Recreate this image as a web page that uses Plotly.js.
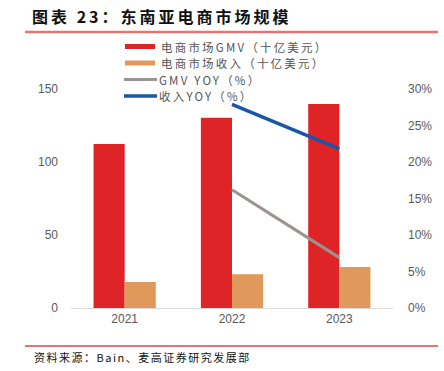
<!DOCTYPE html>
<html>
<head>
<meta charset="utf-8">
<script src="https://cdn.plot.ly/plotly-3.0.1.min.js"></script>
<style>
html,body{margin:0;padding:0;background:#fff;}
#chart{width:444px;height:371px;}
#chart .gtitle{letter-spacing:3px;}
#chart .annotation-text{letter-spacing:2.2px;}
#chart .annotation.src .annotation-text{letter-spacing:1.5px;}
</style>
</head>
<body>
<div id="chart"></div>
<script>
const years = ['2021', '2022', '2023'];
const gmv = [112.3, 130.3, 139.7];
const revenue = [17.8, 23.1, 28.1];
const gmvYoyYears = ['2022', '2023'];
const gmvYoy = [0.162, 0.069];
const revYoyYears = ['2022', '2023'];
const revYoy = [0.279, 0.218];
const leftTicks = [0, 50, 100, 150];
const rightTicks = [0, 0.05, 0.10, 0.15, 0.20, 0.25, 0.30];
const rightTickText = ['0%', '5%', '10%', '15%', '20%', '25%', '30%'];
const seriesNames = ['电商市场GMV（十亿美元）', '电商市场收入（十亿美元）', 'GMV YOY（%）', '收入YOY（%）'];
const seriesColors = ['#df2428', '#e0995a', '#9b9392', '#1a56a8'];

const cjk = '"Noto Sans CJK SC", "Noto Sans", sans-serif';
const num = '"Liberation Sans", Arial, sans-serif';

const data = [
  {type: 'bar', x: years, y: gmv, name: seriesNames[0], marker: {color: seriesColors[0]}, yaxis: 'y'},
  {type: 'bar', x: years, y: revenue, name: seriesNames[1], marker: {color: seriesColors[1]}, yaxis: 'y'},
  {type: 'scatter', mode: 'lines', x: gmvYoyYears, y: gmvYoy, name: seriesNames[2], line: {color: seriesColors[2], width: 3}, yaxis: 'y2'},
  {type: 'scatter', mode: 'lines', x: revYoyYears, y: revYoy, name: seriesNames[3], line: {color: seriesColors[3], width: 3.5}, yaxis: 'y2'}
];

// pixel -> paper helpers (plot area: x 71..393, y 89..308)
const px = v => (v - 71) / 322;
const py = v => (308 - v) / 219;

const shapes = [
  {type: 'line', xref: 'paper', yref: 'paper', x0: px(25), x1: px(438), y0: py(32), y1: py(32), line: {color: '#e87373', width: 2.5}},
  {type: 'line', xref: 'paper', yref: 'paper', x0: px(25), x1: px(438), y0: py(346), y1: py(346), line: {color: '#e87373', width: 2}}
];
const annotations = [
  {text: '资料来源：Bain、麦高证券研究发展部', xref: 'paper', yref: 'paper', x: px(32), y: py(357), align: 'left',
   xanchor: 'left', yanchor: 'middle', showarrow: false, font: {family: cjk, size: 11, color: '#111'}}
];
// custom legend
const legendY = [46.5, 63, 79.5, 96];
seriesNames.forEach((nm, i) => {
  const y = legendY[i];
  if (i < 2) {
    shapes.push({type: 'rect', xref: 'paper', yref: 'paper', x0: px(125), x1: px(155), y0: py(y - 2.5), y1: py(y + 2.5),
                 fillcolor: seriesColors[i], line: {width: 0}});
  } else {
    shapes.push({type: 'line', xref: 'paper', yref: 'paper', x0: px(124), x1: px(157), y0: py(y), y1: py(y),
                 line: {color: seriesColors[i], width: i === 2 ? 3 : 3.5}});
  }
  annotations.push({text: nm, xref: 'paper', yref: 'paper', x: px(i < 2 ? 160 : 158), y: py(y), xanchor: 'left', yanchor: 'middle',
                    align: 'left', showarrow: false, borderpad: 0, font: {family: cjk, size: 11.5, color: '#555'}});
});

const layout = {
  width: 444, height: 371,
  margin: {l: 71, r: 51, t: 89, b: 63},
  paper_bgcolor: '#fff', plot_bgcolor: '#fff',
  showlegend: false,
  title: {text: '<b>图表 23：东南亚电商市场规模</b>', font: {family: cjk, size: 16, color: '#111'},
          xref: 'container', yref: 'container', x: 32/444, xanchor: 'left', y: 1 - 17/371, yanchor: 'middle'},
  barmode: 'group', bargap: 0.42, bargroupgap: 0,
  xaxis: {type: 'category', showline: true, linecolor: '#d9d9d9', linewidth: 1, ticks: '', showgrid: false,
          tickfont: {family: num, size: 12, color: '#595959'}},
  yaxis: {range: [0, 150], tickvals: leftTicks, showgrid: false, zeroline: false, showline: false, ticks: '',
          tickfont: {family: num, size: 12, color: '#595959'}, ticklabelstandoff: 12},
  yaxis2: {range: [0, 0.30], overlaying: 'y', side: 'right', tickvals: rightTicks, ticktext: rightTickText,
           showgrid: false, zeroline: false, showline: false, ticks: '',
           tickfont: {family: num, size: 12, color: '#595959'}, ticklabelstandoff: 14},
  shapes: shapes,
  annotations: annotations
};

Plotly.newPlot('chart', data, layout, {displayModeBar: false, staticPlot: true}).then(() => {
  const notes = document.querySelectorAll('#chart .annotation');
  if (notes.length) notes[0].classList.add('src');
});
</script>
</body>
</html>
